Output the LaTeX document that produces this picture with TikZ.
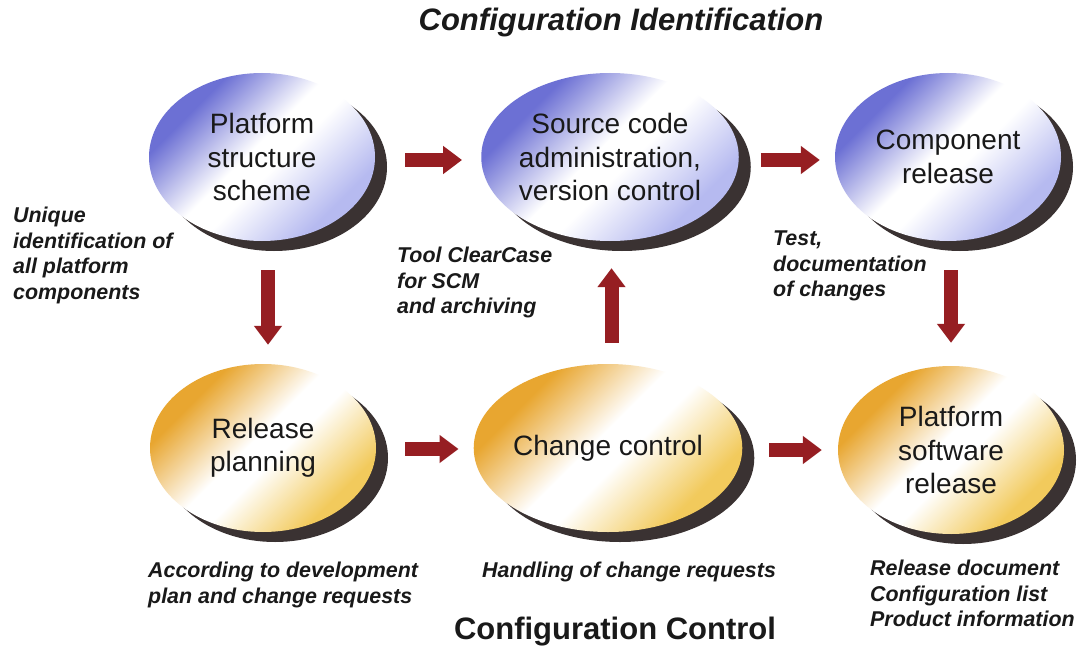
\documentclass[tikz,border=0pt]{standalone}
\usepackage{fontspec}
\setmainfont{Liberation Sans}
\usetikzlibrary{shapes.geometric,arrows.meta,shadows}
\definecolor{bdark}{RGB}{108,112,212}
\definecolor{blight}{RGB}{182,186,240}
\definecolor{ydark}{RGB}{232,166,48}
\definecolor{ylight}{RGB}{242,202,92}
\definecolor{shadowc}{RGB}{58,50,50}
\definecolor{arrowc}{RGB}{150,30,34}
\definecolor{textc}{RGB}{25,25,25}
\pgfdeclareverticalshading{blueballsh}{100bp}{color(0bp)=(blight); color(28bp)=(blight); color(46bp)=(white); color(53bp)=(white); color(71bp)=(bdark); color(100bp)=(bdark)}
\pgfdeclareverticalshading{yellowballsh}{100bp}{color(0bp)=(ylight); color(28bp)=(ylight); color(46bp)=(white); color(53bp)=(white); color(71bp)=(ydark); color(100bp)=(ydark)}
\tikzset{
  ball/.style={ellipse, minimum width=226pt, minimum height=168pt, inner sep=0pt,
    align=center, text=textc, font=\fontsize{28}{33.5}\selectfont,
    drop shadow={shadow xshift=12pt, shadow yshift=-10pt, fill=shadowc, opacity=1}},
  blueball/.style={ball, shading=blueballsh, shading angle=45},
  yellowball/.style={ball, shading=yellowballsh, shading angle=45},
  barrow/.style={draw=arrowc, line width=14pt, -{Triangle[length=19pt,width=27pt]}},
  lbl/.style={anchor=north west, inner sep=0pt, align=left, text=textc,
    font=\fontsize{21.4}{25.5}\selectfont\bfseries\itshape},
  ttl/.style={anchor=base, inner sep=0pt, text=textc}
}
\begin{document}
\begin{tikzpicture}[x=1pt,y=1pt]
\fill[white] (0,0) rectangle (1081,-647);
\useasboundingbox (0,0) rectangle (1081,-647);

\node[ttl, font=\fontsize{31}{36}\selectfont\bfseries\itshape] (t1) at (621,-31) {Configuration Identification};
\node[ttl, font=\fontsize{31}{36}\selectfont\bfseries] (t2) at (615,-639) {Configuration Control};

\node[blueball] (e1) at (262,-157) {Platform\\structure\\scheme};
\node[blueball] (e2) at (610,-157) {Source code\\administration,\\version control};
\node[blueball] (e3) at (948,-157) {Component\\release};
\node[yellowball] (e4) at (263,-448) {Release\\planning};
\node[yellowball] (e5) at (608,-448) {Change control};
\node[yellowball] (e6) at (951,-450) {Platform\\software\\release};

\draw[barrow] ([xshift=30pt,yshift=-3pt]e1.east) -- ([xshift=-19pt,yshift=-3pt]e2.west);
\draw[barrow] ([xshift=22pt,yshift=-3pt]e2.east) -- ([xshift=-15pt,yshift=-3pt]e3.west);
\draw[barrow] ([xshift=29pt,yshift=-1pt]e4.east) -- ([xshift=-15pt,yshift=-1pt]e5.west);
\draw[barrow] ([xshift=27pt,yshift=-2pt]e5.east) -- ([xshift=-16pt,yshift=0pt]e6.west);
\draw[barrow] ([xshift=6pt,yshift=-29pt]e1.south) -- ([xshift=5pt,yshift=19pt]e4.north);
\draw[barrow] ([xshift=3.5pt,yshift=21pt]e5.north) -- ([xshift=1.5pt,yshift=-27pt]e2.south);
\draw[barrow] ([xshift=3pt,yshift=-29pt]e3.south) -- ([xshift=0pt,yshift=23pt]e6.north);

\node[lbl] (l1) at (13,-207) {Unique\\identification of\\all platform\\components};
\node[lbl] (l2) at (397,-247) {Tool ClearCase\\for SCM\\and archiving};
\node[lbl] (l3) at (773,-231) {Test,\\documentation\\of changes};
\node[lbl] (l4) at (148,-562) {According to development\\plan and change requests};
\node[lbl] (l5) at (482,-562) {Handling of change requests};
\node[lbl] (l6) at (870,-560) {Release document\\Configuration list\\Product information};
\end{tikzpicture}
\end{document}
